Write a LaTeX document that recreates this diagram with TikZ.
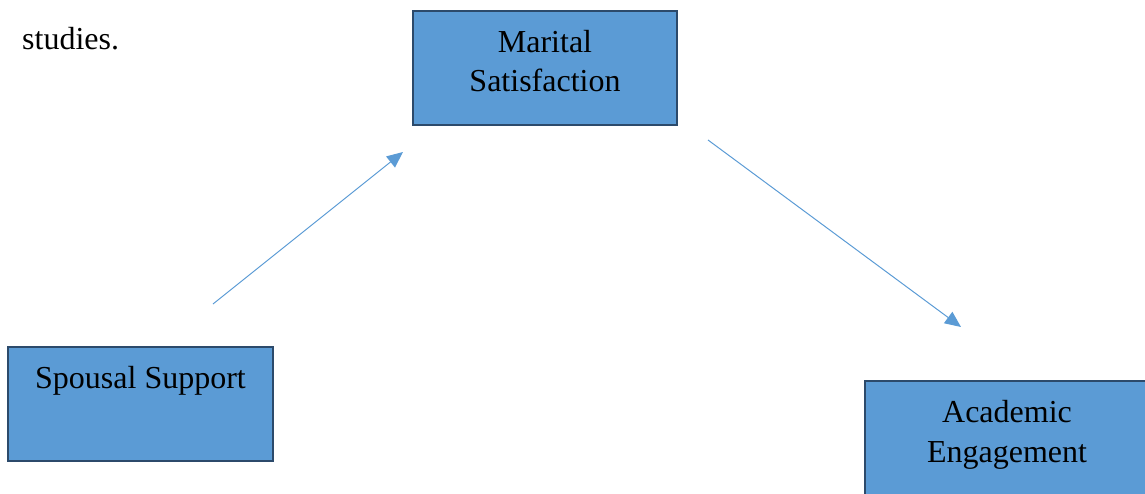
\documentclass[tikz,border=0pt]{standalone}
\usepackage{fontspec}
\setmainfont{Liberation Serif}
\usetikzlibrary{arrows.meta}
\definecolor{boxfill}{HTML}{5B9BD5}
\definecolor{boxline}{HTML}{2C4A6B}
\definecolor{arrowcol}{HTML}{5B9BD5}
\begin{document}
\begin{tikzpicture}[x=1pt,y=-1pt,
  box/.style={draw=boxline, fill=boxfill, line width=2pt, rectangle, inner sep=0pt},
  lbl/.style={anchor=base, inner sep=0pt, font=\fontsize{32}{39}\selectfont},
  conn/.style={draw=arrowcol, line width=1pt, -{Triangle[length=16pt,width=14pt]}}]
\useasboundingbox (0,0) rectangle (1145,493);
\clip (0,0) rectangle (1145,493);
% boxes
\node[box, minimum width=264pt, minimum height=114pt] (ms) at (545,67.5) {};
\node[box, minimum width=265pt, minimum height=114pt] (ss) at (140.5,404) {};
\node[box, minimum width=284pt, minimum height=114pt] (ae) at (1007,438) {};
% texts
\node[lbl] (ms1) at (545,52) {Marital};
\node[lbl] (ms2) at (545,91) {Satisfaction};
\node[lbl] (ss1) at (140.5,388) {Spousal Support};
\node[lbl] (ae1) at (1007,422) {Academic};
\node[lbl] (ae2) at (1007,462) {Engagement};
\node[lbl, anchor=base west] (st) at (22,49) {studies.};
% arrows
\coordinate (a1s) at (213,304);
\coordinate (a1e) at (403,152);
\coordinate (a2s) at (708,140);
\coordinate (a2e) at (961,327);
\draw[conn] (a1s) -- (a1e);
\draw[conn] (a2s) -- (a2e);
\end{tikzpicture}
\end{document}
